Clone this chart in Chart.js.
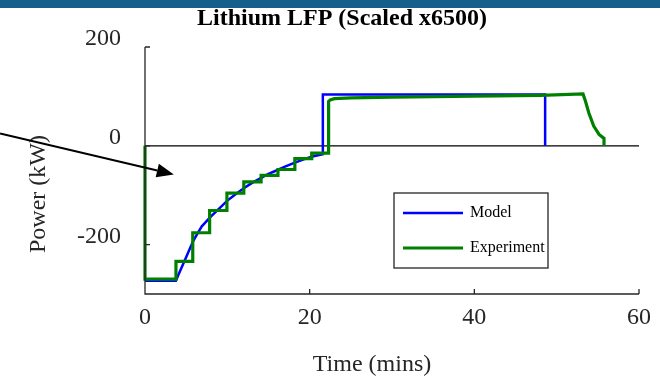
<!DOCTYPE html>
<html>
<head>
<meta charset="utf-8">
<script src="https://cdn.jsdelivr.net/npm/chart.js@4.4.1/dist/chart.umd.min.js"></script>
<style>
  body { margin: 0; background: #fff; }
  #band { height: 8px; background: #15608b; }
  #wrap { width: 660px; height: 369px; }
</style>
</head>
<body>
<div id="band"></div>
<div id="wrap"><canvas id="myChart" width="660" height="369"></canvas></div>
<script>
// time in minutes, power in kW
let model_time = [0, 3.75, 4.3, 4.85, 5.4, 5.85, 6.4, 6.9, 7.9, 9, 10, 11, 12, 13, 14, 15, 16.1, 17, 18.2, 19.2, 20.2, 21, 21.6, 21.6, 48.6, 48.6];
let model_power = [-273, -273, -252, -231, -210, -193, -177, -163, -145, -127, -111, -98, -86, -75, -66, -57, -49, -42, -34, -28, -22, -19, -17, 104, 104, 0];

let exp_time = [0, 0, 3.76, 3.76, 5.8, 5.8, 7.85, 7.85, 9.95, 9.95, 12, 12, 14.1, 14.1, 16.15, 16.15, 18.2, 18.2, 20.25, 20.25, 22.3, 22.3, 22.5, 23, 25, 30, 40, 48, 53.2, 53.5, 53.9, 54.5, 55.15, 55.75, 55.75];
let exp_power = [0, -270, -270, -234, -234, -176, -176, -131, -131, -96, -96, -73, -73, -60, -60, -48, -48, -26, -26, -15, -15, 90, 93, 95.5, 97, 98.5, 100.5, 102, 105, 90, 67, 40, 23, 15, 0];

let time_ticks = [0, 20, 40, 60];
let power_ticks = [-200, 0, 200];

// arrow pointing at the charge steps (tail, head) in data units
let arrow_from = [-17.6, 25];
let arrow_to = [3.5, -58];

const serif = "'Liberation Serif', 'Times New Roman', serif";
const axisColor = '#262626';

function points(xs, ys) {
    return xs.map((x, i) => ({ x: x, y: ys[i] }));
}

const decor = {
    id: 'decor',
    afterDraw(chart) {
        const ctx = chart.ctx;
        const area = chart.chartArea;
        const xs = chart.scales.x;
        const ys = chart.scales.y;
        ctx.save();

        // axes with inward ticks
        ctx.strokeStyle = axisColor;
        ctx.lineWidth = 1.3;
        ctx.beginPath();
        ctx.moveTo(area.left, area.top);
        ctx.lineTo(area.left, area.bottom);
        ctx.lineTo(area.right, area.bottom);
        power_ticks.forEach(v => {
            const py = ys.getPixelForValue(v);
            ctx.moveTo(area.left, py);
            ctx.lineTo(area.left + 5, py);
        });
        time_ticks.forEach(v => {
            const px = xs.getPixelForValue(v);
            ctx.moveTo(px, area.bottom);
            ctx.lineTo(px, area.bottom - 5);
        });
        ctx.stroke();

        // titles
        ctx.fillStyle = '#000';
        ctx.textAlign = 'center';
        ctx.textBaseline = 'alphabetic';
        ctx.font = 'bold 24px ' + serif;
        ctx.fillText('Lithium LFP (Scaled x6500)', area.left + 197, 17);
        ctx.fillStyle = axisColor;
        ctx.font = '24px ' + serif;
        ctx.fillText('Time (mins)', area.left + 227, 363);
        ctx.save();
        ctx.translate(45, 186);
        ctx.rotate(-Math.PI / 2);
        ctx.fillText('Power (kW)', 0, 0);
        ctx.restore();

        // arrow
        const x0 = xs.getPixelForValue(arrow_from[0]), y0 = ys.getPixelForValue(arrow_from[1]);
        const x1 = xs.getPixelForValue(arrow_to[0]), y1 = ys.getPixelForValue(arrow_to[1]);
        const ang = Math.atan2(y1 - y0, x1 - x0);
        const headLen = 17, headW = 7;
        const bx = x1 - headLen * Math.cos(ang), by = y1 - headLen * Math.sin(ang);
        ctx.strokeStyle = '#000';
        ctx.fillStyle = '#000';
        ctx.lineWidth = 2;
        ctx.beginPath();
        ctx.moveTo(x0, y0);
        ctx.lineTo(bx, by);
        ctx.stroke();
        ctx.beginPath();
        ctx.moveTo(x1, y1);
        ctx.lineTo(bx + headW * Math.sin(ang), by - headW * Math.cos(ang));
        ctx.lineTo(bx - headW * Math.sin(ang), by + headW * Math.cos(ang));
        ctx.closePath();
        ctx.fill();

        // legend box
        const lx = area.left + 249, ly = area.top + 146, lw = 154, lh = 75;
        ctx.fillStyle = '#fff';
        ctx.fillRect(lx, ly, lw, lh);
        ctx.strokeStyle = axisColor;
        ctx.lineWidth = 1.3;
        ctx.strokeRect(lx, ly, lw, lh);
        ctx.font = '16px ' + serif;
        ctx.textAlign = 'left';
        ctx.textBaseline = 'middle';
        const legendSets = chart.data.datasets.filter(d => d.label);
        legendSets.forEach((d, i) => {
            const rowY = ly + 20 + i * 35;
            ctx.strokeStyle = d.borderColor;
            ctx.lineWidth = d.borderWidth;
            ctx.beginPath();
            ctx.moveTo(lx + 9, rowY);
            ctx.lineTo(lx + 69, rowY);
            ctx.stroke();
            ctx.fillStyle = '#000';
            ctx.fillText(d.label, lx + 76, rowY);
        });
        ctx.restore();
    }
};

function myChart() {
    let ctx = document.getElementById('myChart').getContext('2d');
    new Chart(ctx, {
        type: 'line',
        data: {
            datasets: [{
                    label: 'Model',
                    data: points(model_time, model_power),
                    borderColor: '#0000ff',
                    borderWidth: 2.5,
                    order: 1
                },
                {
                    label: 'Experiment',
                    data: points(exp_time, exp_power),
                    borderColor: '#008000',
                    borderWidth: 3.2,
                    order: 0
                },
                {
                    label: '',
                    data: points([0, 60], [0, 0]),
                    borderColor: '#000',
                    borderWidth: 1.3,
                    order: 2
                }
            ]
        },
        options: {
            responsive: false,
            animation: false,
            devicePixelRatio: 1,
            events: [],
            layout: { padding: { top: 39, right: 21, left: 0, bottom: 0 } },
            elements: {
                line: { tension: 0, fill: false },
                point: { radius: 0 }
            },
            datasets: { line: { clip: false } },
            plugins: {
                legend: { display: false },
                title: { display: false },
                tooltip: { enabled: false }
            },
            scales: {
                x: {
                    type: 'linear',
                    min: 0,
                    max: 60,
                    afterFit: s => { s.height = 83; },
                    afterBuildTicks: s => { s.ticks = time_ticks.map(v => ({ value: v })); },
                    grid: { display: false, drawTicks: false },
                    border: { display: false },
                    ticks: { padding: 9, maxRotation: 0, color: axisColor, font: { family: serif, size: 24 } }
                },
                y: {
                    type: 'linear',
                    min: -300,
                    max: 200,
                    afterFit: s => { s.width = 145; },
                    afterBuildTicks: s => { s.ticks = power_ticks.map(v => ({ value: v })); },
                    grid: { display: false, drawTicks: false },
                    border: { display: false },
                    ticks: { padding: 24, labelOffset: -8, color: axisColor, font: { family: serif, size: 24 } }
                }
            }
        },
        plugins: [decor]
    });
}
myChart()
</script>
</body>
</html>
